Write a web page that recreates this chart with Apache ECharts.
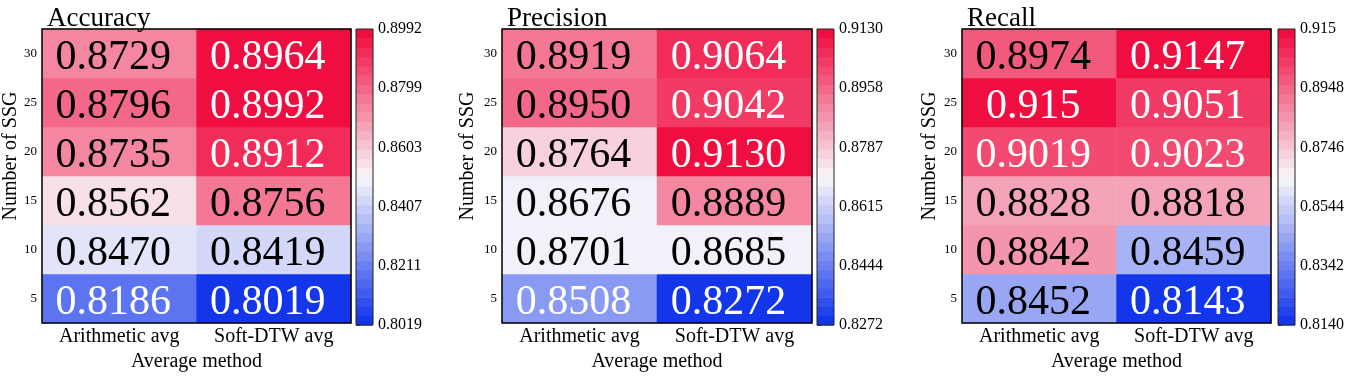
<!DOCTYPE html>
<html>
<head>
<meta charset="utf-8">
<script src="https://cdn.jsdelivr.net/npm/echarts@6/dist/echarts.min.js"></script>
<style>
  html, body { margin: 0; padding: 0; background: #fff; }
  #chart { width: 1350px; height: 377px; }
</style>
</head>
<body>
<div id="chart"></div>
<script>
// categories
const methods = ["Arithmetic avg", "Soft-DTW avg"];
const ssgCounts = ["5", "10", "15", "20", "25", "30"]; // bottom -> top

// values, rows ordered 5 -> 30
const accArith = ["0.8186", "0.8470", "0.8562", "0.8735", "0.8796", "0.8729"];
const accSoft = ["0.8019", "0.8419", "0.8756", "0.8912", "0.8992", "0.8964"];
const precArith = ["0.8508", "0.8701", "0.8676", "0.8764", "0.8950", "0.8919"];
const precSoft = ["0.8272", "0.8685", "0.8889", "0.9130", "0.9042", "0.9064"];
const recArith = ["0.8452", "0.8842", "0.8828", "0.9019", "0.915", "0.8974"];
const recSoft = ["0.8143", "0.8459", "0.8818", "0.9023", "0.9051", "0.9147"];

// colorbar tick labels, bottom -> top
const accTicks = ["0.8019", "0.8211", "0.8407", "0.8603", "0.8799", "0.8992"];
const precTicks = ["0.8272", "0.8444", "0.8615", "0.8787", "0.8958", "0.9130"];
const recTicks = ["0.8140", "0.8342", "0.8544", "0.8746", "0.8948", "0.915"];

const FONT = "Liberation Serif";
const N_BANDS = 32;
const BLUE = [12, 48, 235];
const WHITE = [248, 247, 250];
const RED = [240, 6, 58];

// blue -> white -> red, banded like the colorbar
function bandColor(t) {
  let k = Math.floor(t * N_BANDS);
  k = Math.max(0, Math.min(N_BANDS - 1, k));
  const q = (k + 0.5) / N_BANDS;
  let a, b, s;
  if (q < 0.5) { a = BLUE; b = WHITE; s = q / 0.5; }
  else { a = WHITE; b = RED; s = (q - 0.5) / 0.5; }
  const c = a.map((v, i) => Math.round(v + (b[i] - v) * s));
  return "rgb(" + c.join(",") + ")";
}

const panels = [
  { title: "Accuracy", arith: accArith, soft: accSoft, ticks: accTicks, left: 42, width: 309, cbLeft: 356, nameX: 11 },
  { title: "Precision", arith: precArith, soft: precSoft, ticks: precTicks, left: 502, width: 310, cbLeft: 817, nameX: 468 },
  { title: "Recall", arith: recArith, soft: recSoft, ticks: recTicks, left: 962, width: 309, cbLeft: 1278, nameX: 930 },
];

const TOP = 29, HEIGHT = 297, CB_W = 17;

const option = {
  animation: false,
  textStyle: { fontFamily: FONT },
  title: [], grid: [], xAxis: [], yAxis: [], series: [], graphic: [],
};

panels.forEach((p, pi) => {
  const lo = parseFloat(p.ticks[0]);
  const hi = parseFloat(p.ticks[p.ticks.length - 1]);
  const step = (hi - lo) / (p.ticks.length - 1);
  const norm = (v) => (v - lo) / (hi - lo);

  option.title.push({
    text: p.title, left: p.left, top: 0,
    textStyle: { fontFamily: FONT, fontSize: 27, fontWeight: "normal", color: "#000" },
  });

  // heatmap grid (border drawn above the cells)
  option.grid.push({
    left: p.left, top: TOP, width: p.width, height: HEIGHT, z: 10,
    show: true, borderColor: "#000", borderWidth: 1.5, backgroundColor: "transparent",
  });
  // colorbar grid
  option.grid.push({
    left: p.cbLeft, top: TOP, width: CB_W, height: HEIGHT - 1, z: 10,
    show: true, borderColor: "#222", borderWidth: 1, backgroundColor: "transparent",
  });

  const g = pi * 2, gc = pi * 2 + 1;

  option.xAxis.push({
    gridIndex: g, type: "category", data: methods,
    axisLine: { show: false }, axisTick: { show: false }, splitArea: { show: false },
    axisLabel: { fontFamily: FONT, fontSize: 20, color: "#000", margin: 4, interval: 0, hideOverlap: false },
    name: "Average method", nameLocation: "middle", nameGap: 26,
    nameTextStyle: { fontFamily: FONT, fontSize: 20, color: "#000" },
  });
  option.yAxis.push({
    gridIndex: g, type: "category", data: ssgCounts,
    axisLine: { show: false }, axisTick: { show: false }, splitArea: { show: false },
    axisLabel: { fontFamily: FONT, fontSize: 13, color: "#000", margin: 5, interval: 0 },
  });

  option.xAxis.push({ gridIndex: gc, type: "value", min: 0, max: 1, show: false });
  option.yAxis.push({
    gridIndex: gc, type: "value", position: "right", min: lo, max: hi, interval: step,
    splitLine: { show: false },
    axisLine: { show: false },
    axisTick: { show: true, length: 4, lineStyle: { color: "#333" } },
    axisLabel: {
      fontFamily: FONT, fontSize: 16, color: "#000", margin: 5,
      formatter: (v) => p.ticks[Math.round((v - lo) / step)] || "",
    },
  });

  const cells = [];
  ssgCounts.forEach((_, yi) => {
    [p.arith, p.soft].forEach((col, xi) => {
      const v = parseFloat(col[yi]);
      const t = norm(v);
      cells.push({
        value: [xi, yi, v],
        text: col[yi],
        itemStyle: { color: bandColor(t) },
        label: { color: t > 0.85 || t < 0.29 ? "#fff" : "#000" },
      });
    });
  });

  option.series.push({
    type: "heatmap", xAxisIndex: g, yAxisIndex: g,
    data: cells,
    label: {
      show: true, fontFamily: FONT, fontSize: 42, offset: [-6, 4],
      formatter: (d) => d.data.text,
    },
    emphasis: { disabled: true },
  });

  // colorbar bands
  const bands = [];
  for (let k = 0; k < N_BANDS; k++) {
    bands.push([0, lo + (hi - lo) * k / N_BANDS, lo + (hi - lo) * (k + 1) / N_BANDS]);
  }
  option.series.push({
    type: "custom", xAxisIndex: gc, yAxisIndex: gc,
    data: bands, encode: { x: 0, y: [1, 2] },
    renderItem: (params, api) => {
      const a = api.coord([0, api.value(1)]);
      const b = api.coord([1, api.value(2)]);
      return {
        type: "rect",
        shape: { x: a[0], y: b[1], width: b[0] - a[0], height: a[1] - b[1] + 0.5 },
        style: { fill: bandColor((params.dataIndex + 0.5) / N_BANDS) },
      };
    },
    silent: true,
  });

  option.graphic.push({
    type: "text", x: p.nameX, y: 156, rotation: Math.PI / 2,
    style: {
      text: "Number of SSG", font: "20px '" + FONT + "'", fill: "#000",
      align: "center", verticalAlign: "middle",
    },
  });
});

const chart = echarts.init(document.getElementById("chart"), null, { renderer: "canvas" });
chart.setOption(option);
</script>
</body>
</html>
